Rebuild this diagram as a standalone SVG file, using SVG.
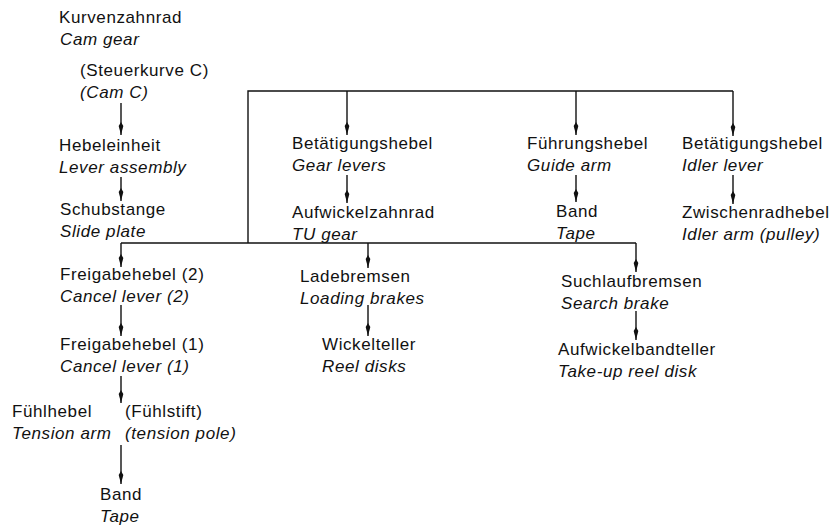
<svg xmlns="http://www.w3.org/2000/svg" width="837" height="530" viewBox="0 0 837 530">
  <defs>
    <style>
      text { font-family: "Liberation Sans", Arial, sans-serif; font-size: 17px; letter-spacing: 0.6px; fill: #111; }
      .en { font-style: italic; }
      .wire { fill: none; stroke: #111; stroke-width: 1.4; }
      .arrow { fill: none; stroke: #111; stroke-width: 1.4; marker-end: url(#head); }
    </style>
    <marker id="head" markerUnits="userSpaceOnUse" markerWidth="16" markerHeight="8" refX="13" refY="4" orient="auto">
      <path d="M13,4 L4,1.7 L0,4 L4,6.3 Z" fill="#111"/>
    </marker>
  </defs>

  <rect width="837" height="530" fill="#fff"/>

  <!-- connectors -->
  <g id="connectors">
    <polyline class="wire" points="248,243 248,91 733,91"/>
    <line class="wire" x1="121" y1="243" x2="636" y2="243"/>
    <line class="arrow" x1="121" y1="103" x2="121" y2="135"/>
    <line class="arrow" x1="121" y1="177" x2="121" y2="201"/>
    <line class="arrow" x1="121" y1="243" x2="121" y2="267"/>
    <line class="arrow" x1="121" y1="305" x2="121" y2="336"/>
    <line class="arrow" x1="121" y1="376" x2="121" y2="403"/>
    <line class="arrow" x1="121" y1="445" x2="121" y2="484"/>
    <line class="arrow" x1="347" y1="91" x2="347" y2="135"/>
    <line class="arrow" x1="347" y1="175" x2="347" y2="203"/>
    <line class="arrow" x1="576" y1="91" x2="576" y2="135"/>
    <line class="arrow" x1="576" y1="175" x2="576" y2="202"/>
    <line class="arrow" x1="733" y1="91" x2="733" y2="136"/>
    <line class="arrow" x1="733" y1="175" x2="733" y2="204"/>
    <line class="arrow" x1="368" y1="243" x2="368" y2="268"/>
    <line class="arrow" x1="368" y1="305" x2="368" y2="336"/>
    <line class="arrow" x1="636" y1="243" x2="636" y2="272"/>
    <line class="arrow" x1="636" y1="311" x2="636" y2="340"/>
  </g>

  <!-- left column -->
  <g id="cam-gear">
    <text x="59" y="23">Kurvenzahnrad</text>
    <text class="en" x="60" y="45">Cam gear</text>
  </g>
  <g id="cam-c">
    <text x="80" y="76">(Steuerkurve C)</text>
    <text class="en" x="80" y="98">(Cam C)</text>
  </g>
  <g id="lever-assembly">
    <text x="59" y="151">Hebeleinheit</text>
    <text class="en" x="59" y="173">Lever assembly</text>
  </g>
  <g id="slide-plate">
    <text x="60" y="215">Schubstange</text>
    <text class="en" x="60" y="237">Slide plate</text>
  </g>
  <g id="cancel-lever-2">
    <text x="60" y="280">Freigabehebel (2)</text>
    <text class="en" x="60" y="302">Cancel lever (2)</text>
  </g>
  <g id="cancel-lever-1">
    <text x="60" y="350">Freigabehebel (1)</text>
    <text class="en" x="60" y="372">Cancel lever (1)</text>
  </g>
  <g id="tension-arm">
    <text x="12" y="417">Fühlhebel</text>
    <text class="en" x="12" y="439">Tension arm</text>
  </g>
  <g id="tension-pole">
    <text x="125" y="417">(Fühlstift)</text>
    <text class="en" x="125" y="439">(tension pole)</text>
  </g>
  <g id="tape-left">
    <text x="100" y="500">Band</text>
    <text class="en" x="100" y="522">Tape</text>
  </g>

  <!-- upper branches -->
  <g id="gear-levers">
    <text x="292" y="149">Betätigungshebel</text>
    <text class="en" x="292" y="171">Gear levers</text>
  </g>
  <g id="tu-gear">
    <text x="292" y="218">Aufwickelzahnrad</text>
    <text class="en" x="292" y="240">TU gear</text>
  </g>
  <g id="guide-arm">
    <text x="527" y="149">Führungshebel</text>
    <text class="en" x="527" y="171">Guide arm</text>
  </g>
  <g id="tape-right">
    <text x="556" y="217">Band</text>
    <text class="en" x="556" y="239">Tape</text>
  </g>
  <g id="idler-lever">
    <text x="682" y="149">Betätigungshebel</text>
    <text class="en" x="682" y="171">Idler lever</text>
  </g>
  <g id="idler-arm">
    <text x="682" y="218">Zwischenradhebel</text>
    <text class="en" x="682" y="240">Idler arm (pulley)</text>
  </g>

  <!-- lower branches -->
  <g id="loading-brakes">
    <text x="300" y="282">Ladebremsen</text>
    <text class="en" x="300" y="304">Loading brakes</text>
  </g>
  <g id="reel-disks">
    <text x="322" y="350">Wickelteller</text>
    <text class="en" x="322" y="372">Reel disks</text>
  </g>
  <g id="search-brake">
    <text x="561" y="287">Suchlaufbremsen</text>
    <text class="en" x="561" y="309">Search brake</text>
  </g>
  <g id="take-up-reel-disk">
    <text x="558" y="355">Aufwickelbandteller</text>
    <text class="en" x="558" y="377">Take-up reel disk</text>
  </g>
</svg>
